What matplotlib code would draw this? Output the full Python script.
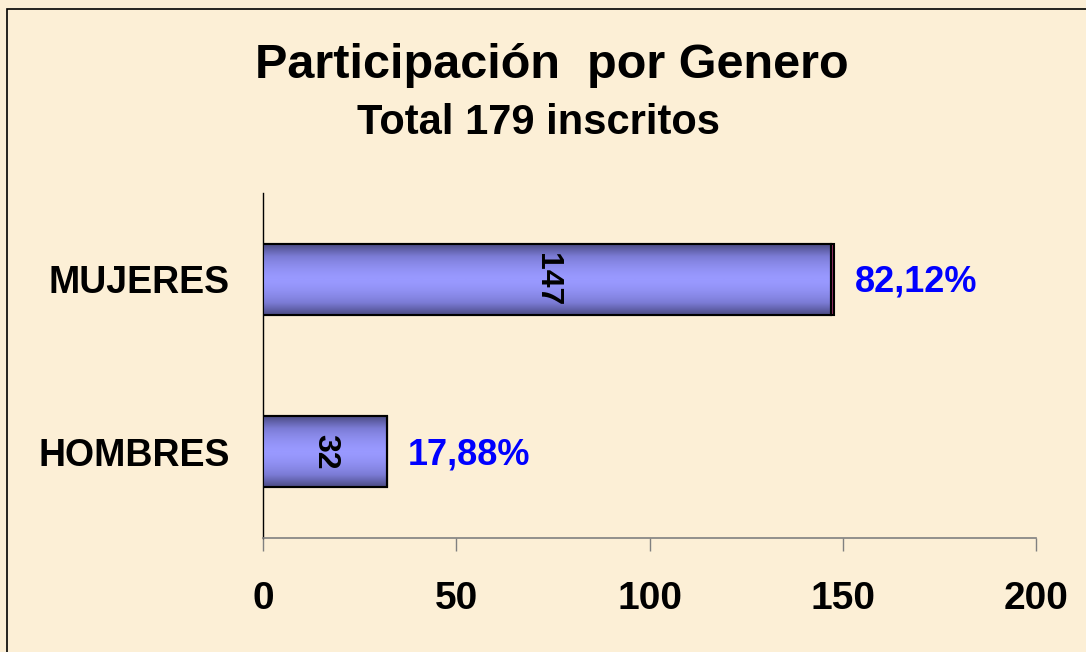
import numpy as np                  # array
import matplotlib
matplotlib.use("Agg")
import matplotlib.pyplot as plt     # chart
from matplotlib.patches import Rectangle

# datas
categorias = ['HOMBRES', 'MUJERES']
inscritos = [32, 147]
porcentajes = [17.88, 82.12]
etiquetas_pct = ['17,88%', '82,12%']
ticks_x = [0, 50, 100, 150, 200]

plt.rcParams['font.family'] = ['Liberation Sans', 'DejaVu Sans']
plt.rcParams['font.weight'] = 'bold'

fondo = '#fcefd6'
fig = plt.figure(figsize=(10.86, 6.52), dpi=100, facecolor=fondo)
ax = fig.add_axes([0.2422, 0.1748, 0.7118, 0.5292])
ax.set_facecolor('none')

# chart border (left + top visible, rest outside the picture)
fig.patches.append(Rectangle((0.0065, -0.02), 1.2, 1.006, transform=fig.transFigure,
                             fill=False, edgecolor='black', linewidth=1.2))

y = np.arange(len(categorias))
alto = 0.41

# gradient colormap: dark at top / bottom, light in the middle
grad = np.abs(np.linspace(-1, 1, 200)).reshape(-1, 1) ** 1.6
cmap = matplotlib.colors.LinearSegmentedColormap.from_list('barra', ['#9999ff', '#7c7cd6', '#4a4a82'])

barras = ax.barh(y, inscritos, height=alto, color='#9999ff', edgecolor='black', linewidth=1.5, zorder=3)
for b in barras:
    x0, y0 = b.get_x(), b.get_y()
    img = ax.imshow(grad, cmap=cmap, aspect='auto', extent=[x0, x0 + b.get_width(), y0, y0 + b.get_height()],
                    zorder=3.5, interpolation='bilinear')
    img.set_clip_path(b)
    # redraw the edge on top of the gradient
    ax.add_patch(Rectangle((x0, y0), b.get_width(), b.get_height(), fill=False,
                           edgecolor='black', linewidth=1.5, zorder=4))

# second series (percent) stacked at the end of each bar
ax.barh(y, [p / 100 for p in porcentajes], left=inscritos, height=alto,
        color='#993366', edgecolor='black', linewidth=1.5, zorder=4)

# value labels inside the bars (rotated)
for yi, v in zip(y, inscritos):
    ax.text(v / 2, yi, str(v), rotation=270, ha='center', va='center', fontsize=23,
            fontweight='bold', color='black', zorder=5)

# percent labels
for yi, v, p, t in zip(y, inscritos, porcentajes, etiquetas_pct):
    ax.annotate(t, (v + p / 100, yi), xytext=(15, -2), textcoords='offset points',
                ha='left', va='center', fontsize=26, fontweight='bold', color='#0000ff')

ax.set_xlim(0, 200)
ax.set_ylim(-0.5, 1.5)
ax.set_xticks(ticks_x)
ax.set_xticklabels([str(t) for t in ticks_x], fontsize=28, fontweight='bold')
ax.set_yticks(y)
ax.set_yticklabels(categorias, fontsize=27, fontweight='bold')

ax.tick_params(axis='x', direction='out', length=9, width=1, color='#808080', pad=22)
ax.tick_params(axis='y', length=0, pad=24)

ax.spines['top'].set_visible(False)
ax.spines['right'].set_visible(False)
ax.spines['bottom'].set_color('#808080')
ax.spines['bottom'].set_linewidth(1.2)
ax.spines['left'].set_color('black')
ax.spines['left'].set_linewidth(1)

# titles
fig.text(0.508, 0.9, 'Participación  por Genero', ha='center', va='center', fontsize=35, fontweight='bold')
fig.text(0.496, 0.812, 'Total 179 inscritos', ha='center', va='center', fontsize=30, fontweight='bold')

fig.savefig('out.png', dpi=100, facecolor=fondo)
